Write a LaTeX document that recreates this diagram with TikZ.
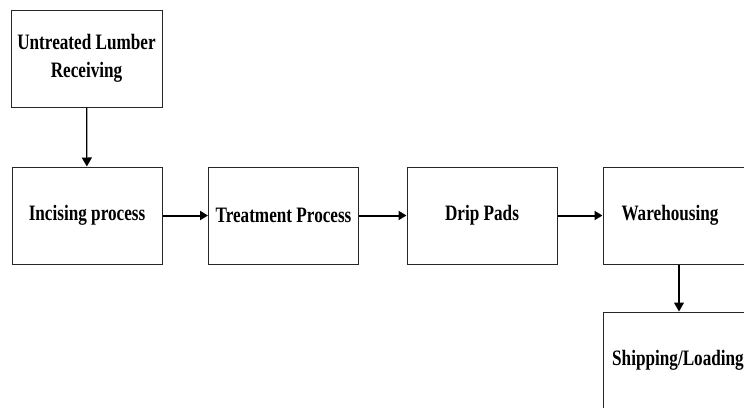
\documentclass[tikz,border=0pt]{standalone}
\usepackage{fontspec}
\setmainfont[FakeStretch=0.78]{Liberation Serif}
\usetikzlibrary{arrows.meta}
\tikzset{
  stepbox/.style={draw=black!85, line width=1pt, minimum width=150pt, minimum height=97pt,
    inner sep=0pt, align=center, font=\fontsize{22}{28}\selectfont\bfseries},
  flow/.style={draw=black, line width=2pt, -{Triangle[length=8pt,width=9pt]}},
  vflow/.style={draw=black, line width=1.2pt, -{Triangle[length=9pt,width=10pt]}}
}
\begin{document}
\begin{tikzpicture}[x=1pt,y=-1pt]
\clip (0,0) rectangle (744,407);
\useasboundingbox (0,0) rectangle (744,407);
\node[stepbox, minimum width=151pt] (recv) at (86.5,58.5) {Untreated Lumber\\Receiving};
\node[stepbox] (incise) at (87,215.5) {Incising process};
\node[stepbox] (treat) at (283.5,215.5) {Treatment Process};
\node[stepbox] (drip) at (482,215.5) {Drip Pads};
\node[stepbox] (ware) at (678,215.5) {Warehousing\hspace*{16pt}};
\node[stepbox] (ship) at (678,360.5) {Shipping/Loading};
\draw[vflow] (recv) -- (incise);
\draw[flow] (incise) -- (treat);
\draw[flow] (treat) -- (drip);
\draw[flow] (drip) -- (ware);
\draw[vflow] (ware.south) ++(1,0) coordinate (wd) (wd) -- (wd |- ship.north);
\end{tikzpicture}
\end{document}
